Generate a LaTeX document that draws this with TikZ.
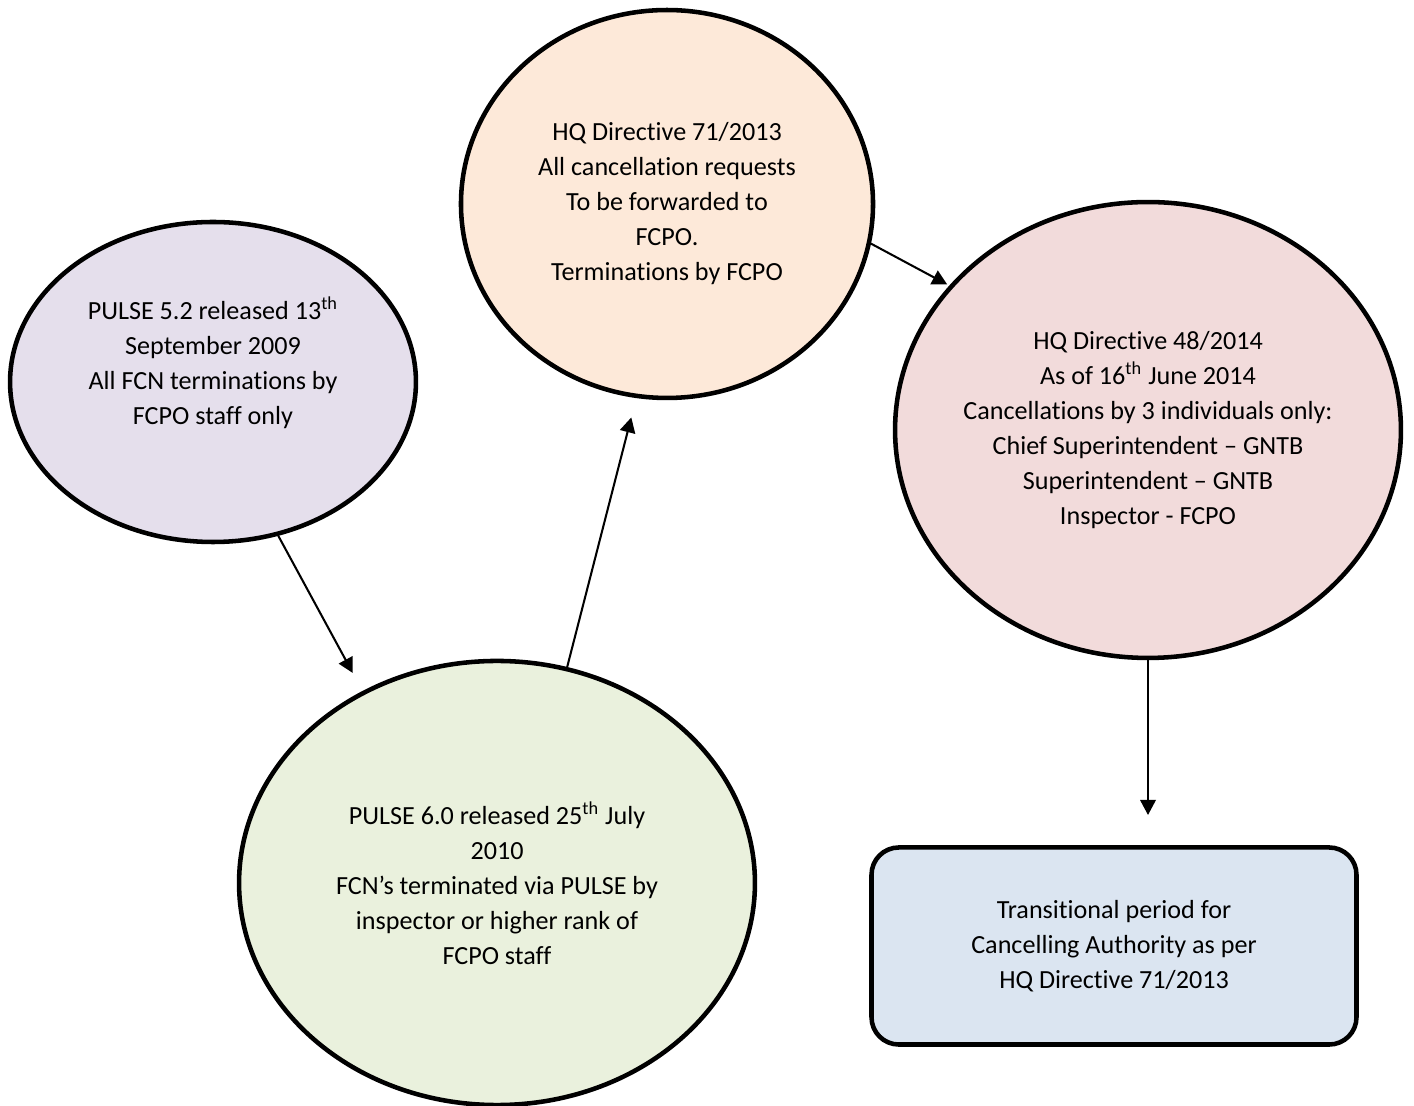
\documentclass[tikz,border=0pt]{standalone}
\usepackage{fontspec}
\setmainfont{Carlito}[Ligatures=NoCommon]
\usetikzlibrary{shapes.geometric,arrows.meta,positioning}

\definecolor{lilac}{HTML}{E5DFEC}
\definecolor{peach}{HTML}{FDE9D9}
\definecolor{rose}{HTML}{F2DBDB}
\definecolor{sage}{HTML}{EAF1DD}
\definecolor{sky}{HTML}{DBE5F1}

\begin{document}
\begin{tikzpicture}
                    [>={Triangle[length=6.6pt,width=6.8pt]},x=0.44pt,y=-0.44pt,
                     bubble/.style={ellipse,draw,line width=2pt,inner sep=-20pt,align=center,font=\fontsize{11.5}{15.4}\selectfont},
                     note/.style={rectangle,rounded corners=12pt,draw,line width=2pt,align=center,font=\fontsize{11.5}{15.4}\selectfont},
                     link/.style={->,line width=0.9pt}]

                \useasboundingbox (0,0) rectangle (1414,1106);

                % the four stages
                \node[bubble,fill=lilac,minimum width=178.6pt,minimum height=140.8pt] (pulse52) at (213,382)
                    {PULSE 5.2 released 13\textsuperscript{th}\\September 2009\\All FCN terminations by\\FCPO staff only\\[3pt] \mbox{}};
                \node[bubble,fill=peach,minimum width=181.3pt,minimum height=170.7pt] (hq71) at (667,204)
                    {HQ Directive 71/2013\\All cancellation requests\\To be forwarded to\\FCPO.\\Terminations by FCPO};
                \node[bubble,fill=rose,minimum width=222.6pt,minimum height=200.6pt] (hq48) at (1148,430)
                    {HQ Directive 48/2014\\As of 16\textsuperscript{th} June 2014\\Cancellations by 3 individuals only:\\Chief Superintendent – GNTB\\Superintendent – GNTB\\Inspector - FCPO};
                \node[bubble,fill=sage,minimum width=227pt,minimum height=195.4pt] (pulse60) at (497,883)
                    {PULSE 6.0 released 25\textsuperscript{th} July\\2010\\FCN’s terminated via PULSE by\\inspector or higher rank of\\FCPO staff};

                \node[note,fill=sky,minimum width=213.4pt,minimum height=86.7pt] (transit) at (1114,946)
                    {Transitional period for\\Cancelling Authority as per\\HQ Directive 71/2013};

                \coordinate (drop) at (1148,815);

                \draw[link,shorten >=9pt] (pulse52.-67) -- (pulse60.125);
                \draw[link,shorten >=8.8pt] (pulse60.72) -- (hq71.261);
                \draw[link,shorten >=1pt] (hq71.-11) -- (hq48.144);
                \draw[link] (hq48) -- (drop);

                \end{tikzpicture}
\end{document}
